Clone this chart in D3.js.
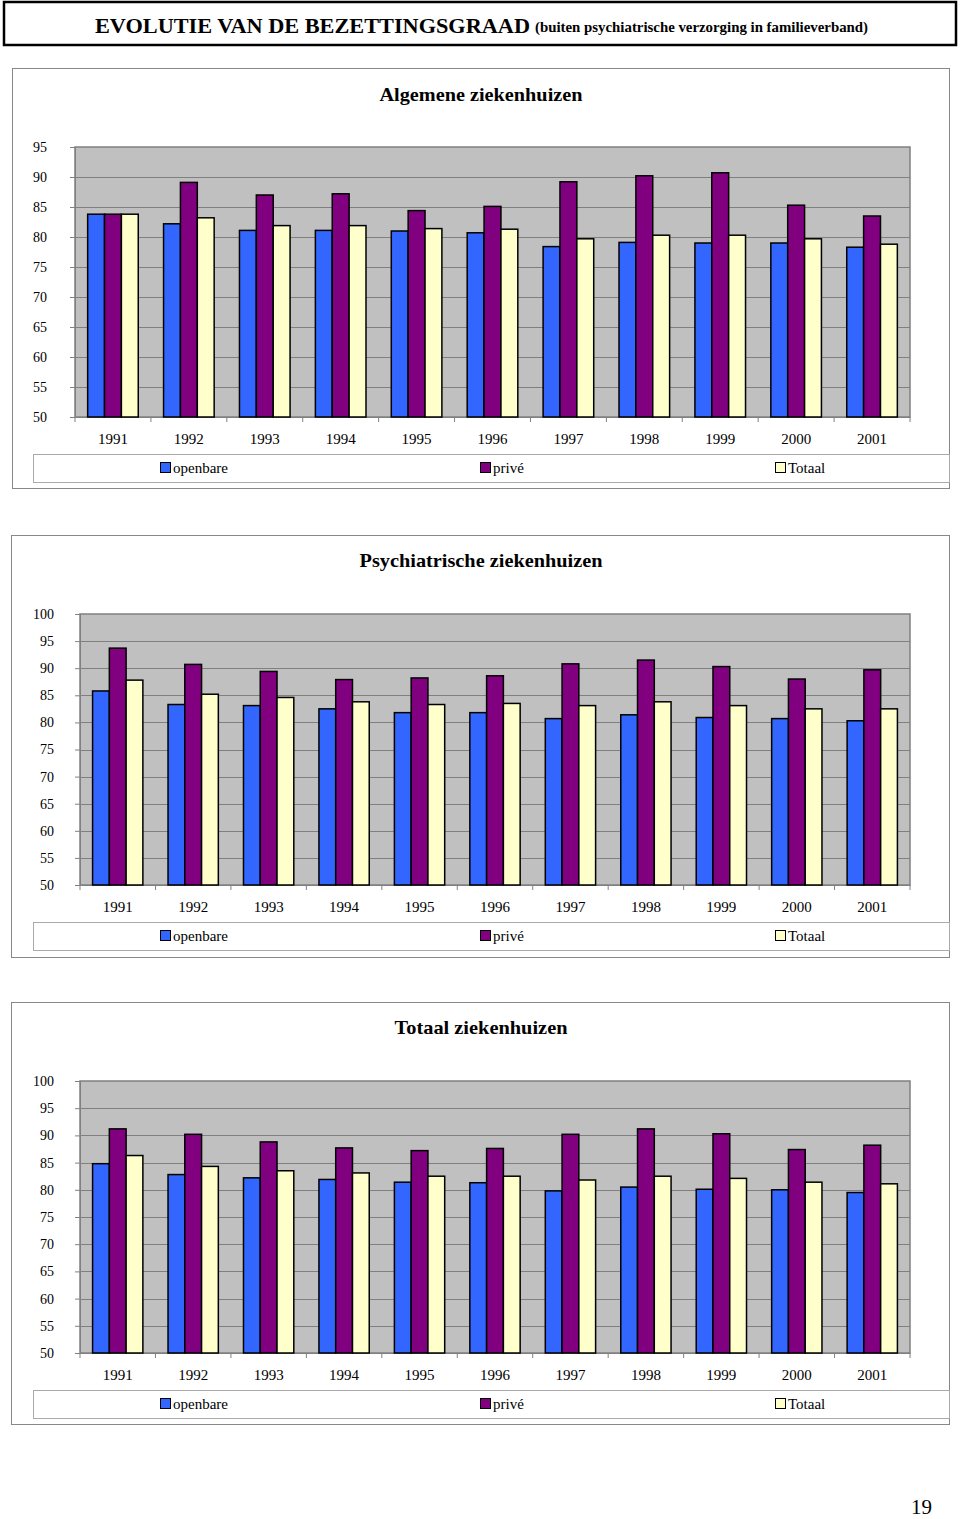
<!DOCTYPE html>
<html><head><meta charset="utf-8">
<script src="https://cdn.jsdelivr.net/npm/d3@7"></script>
<style>
body{margin:0;background:#fff;}
svg text{font-family:"Liberation Serif","Times New Roman",serif;fill:#000;}
</style></head>
<body>
<svg id="c" width="960" height="1519"></svg>
<script>
const years = ["1991","1992","1993","1994","1995","1996","1997","1998","1999","2000","2001"];
const seriesNames = ["openbare","privé","Totaal"];
const seriesColors = ["#3366FF","#800080","#FFFFCC"];

const algOpenbare = [83.8,82.2,81.1,81.1,81.0,80.7,78.4,79.1,79.0,79.0,78.3];
const algPrive    = [83.8,89.1,87.0,87.2,84.4,85.1,89.2,90.2,90.7,85.3,83.5];
const algTotaal   = [83.8,83.2,81.9,81.9,81.4,81.3,79.7,80.3,80.3,79.7,78.8];

const psyOpenbare = [85.8,83.3,83.1,82.5,81.8,81.8,80.7,81.4,80.9,80.7,80.3];
const psyPrive    = [93.7,90.7,89.4,87.9,88.2,88.6,90.8,91.5,90.3,88.0,89.7];
const psyTotaal   = [87.8,85.2,84.6,83.8,83.3,83.5,83.1,83.8,83.1,82.5,82.5];

const totOpenbare = [84.8,82.8,82.2,81.9,81.4,81.3,79.8,80.5,80.1,80.0,79.5];
const totPrive    = [91.2,90.2,88.8,87.7,87.2,87.6,90.2,91.2,90.3,87.4,88.2];
const totTotaal   = [86.3,84.3,83.5,83.1,82.5,82.5,81.8,82.5,82.1,81.4,81.1];

const ticks1 = [50,55,60,65,70,75,80,85,90,95];
const ticks2 = [50,55,60,65,70,75,80,85,90,95,100];

const mainTitle = "EVOLUTIE VAN DE BEZETTINGSGRAAD";
const subTitle = "(buiten psychiatrische verzorging in familieverband)";
const chartTitles = ["Algemene ziekenhuizen","Psychiatrische ziekenhuizen","Totaal ziekenhuizen"];
const pageNumber = "19";

const svg = d3.select("#c");

// header
svg.append("rect").attr("x",4).attr("y",2).attr("width",952).attr("height",43)
  .attr("fill","#fff").attr("stroke","#000").attr("stroke-width",2.5);
svg.append("text").attr("x",95).attr("y",33).attr("font-size",22).attr("font-weight","bold")
  .attr("textLength",435).attr("lengthAdjust","spacingAndGlyphs").text(mainTitle);
svg.append("text").attr("x",535).attr("y",32).attr("font-size",14.5).attr("font-weight","bold")
  .attr("textLength",333).attr("lengthAdjust","spacingAndGlyphs").text(subTitle);

function drawChart(cfg, data, ticks, title){
  const g = svg.append("g");
  g.append("rect").attr("x",cfg.box[0]+0.5).attr("y",cfg.box[1]+0.5).attr("width",cfg.box[2]).attr("height",cfg.box[3])
    .attr("fill","#fff").attr("stroke","#888").attr("stroke-width",1);
  g.append("text").attr("x",481).attr("y",cfg.titleY).attr("text-anchor","middle")
    .attr("font-size",19).attr("font-weight","bold")
    .attr("textLength",cfg.titleW).attr("lengthAdjust","spacingAndGlyphs").text(title);

  const [x0,x1,y0,y1] = cfg.plot;
  const x = d3.scaleBand().domain(years).range([x0,x1]).paddingInner(0).paddingOuter(0);
  const y = d3.scaleLinear().domain([ticks[0],ticks[ticks.length-1]]).range([y1,y0]);
  // 3 bars + 1.5 bar gap per category
  const bw = x.bandwidth()/4.5;

  g.append("rect").attr("x",x0).attr("y",y0).attr("width",x1-x0).attr("height",y1-y0)
    .attr("fill","#C0C0C0").attr("stroke","#808080").attr("stroke-width",1.5);

  // gridlines
  g.selectAll(".grid").data(ticks.slice(1,-1)).enter().append("line")
    .attr("x1",x0).attr("x2",x1).attr("y1",d=>Math.round(y(d))+0.5).attr("y2",d=>Math.round(y(d))+0.5)
    .attr("stroke","#808080").attr("stroke-width",1);

  // y axis
  const ya = d3.axisLeft(y).tickValues(ticks).tickSize(5).tickSizeOuter(0).tickPadding(cfg.yPad);
  const yg = g.append("g").attr("transform",`translate(${x0},0)`).call(ya);
  yg.select(".domain").attr("stroke","#808080");
  yg.selectAll(".tick line").attr("stroke","#808080");
  yg.selectAll(".tick text").attr("font-size",14);

  // x axis
  const xa = d3.axisBottom(x).tickSize(0).tickPadding(cfg.xPad);
  const xg = g.append("g").attr("transform",`translate(0,${y1})`).call(xa);
  xg.select(".domain").attr("stroke","#808080");
  xg.selectAll(".tick text").attr("font-size",15);
  g.selectAll(".xt").data(d3.range(years.length+1)).enter().append("line")
    .attr("x1",i=>x0+i*x.bandwidth()).attr("x2",i=>x0+i*x.bandwidth())
    .attr("y1",y1).attr("y2",y1+5).attr("stroke","#808080");

  // bars
  data.forEach((vals,si)=>{
    g.selectAll(".b"+si).data(vals).enter().append("rect")
      .attr("x",(d,i)=>x(years[i]) + bw*0.75 + si*bw)
      .attr("y",d=>y(d)).attr("width",bw).attr("height",d=>y1-y(d))
      .attr("fill",seriesColors[si]).attr("stroke","#000").attr("stroke-width",1.5);
  });

  // legend
  const [ly0,ly1] = cfg.legend;
  g.append("rect").attr("x",33.5).attr("y",ly0+0.5).attr("width",cfg.box[0]+cfg.box[2]-33).attr("height",ly1-ly0)
    .attr("fill","#fff").attr("stroke","#aaa");
  const lx = [160,480,775];
  seriesNames.forEach((n,i)=>{
    const cy = (ly0+ly1)/2;
    g.append("rect").attr("x",lx[i]+0.5).attr("y",cy-5.5).attr("width",10).attr("height",10)
      .attr("fill",seriesColors[i]).attr("stroke","#000").attr("stroke-width",1);
    g.append("text").attr("x",lx[i]+13).attr("y",cy+5).attr("font-size",15).text(n);
  });
}

drawChart({box:[12,68,937,420],titleY:101,titleW:203,plot:[75,910,147,417],yPad:23,xPad:16,legend:[454,482]},
  [algOpenbare,algPrive,algTotaal], ticks1, chartTitles[0]);
drawChart({box:[11,535,938,422],titleY:567,titleW:243,plot:[80,910,614,885],yPad:21,xPad:16,legend:[922,950]},
  [psyOpenbare,psyPrive,psyTotaal], ticks2, chartTitles[1]);
drawChart({box:[11,1002,938,422],titleY:1034,titleW:173,plot:[80,910,1081,1353],yPad:21,xPad:16,legend:[1390,1418]},
  [totOpenbare,totPrive,totTotaal], ticks2, chartTitles[2]);

svg.append("text").attr("x",932).attr("y",1514).attr("text-anchor","end").attr("font-size",21).text(pageNumber);
</script>
</body></html>
